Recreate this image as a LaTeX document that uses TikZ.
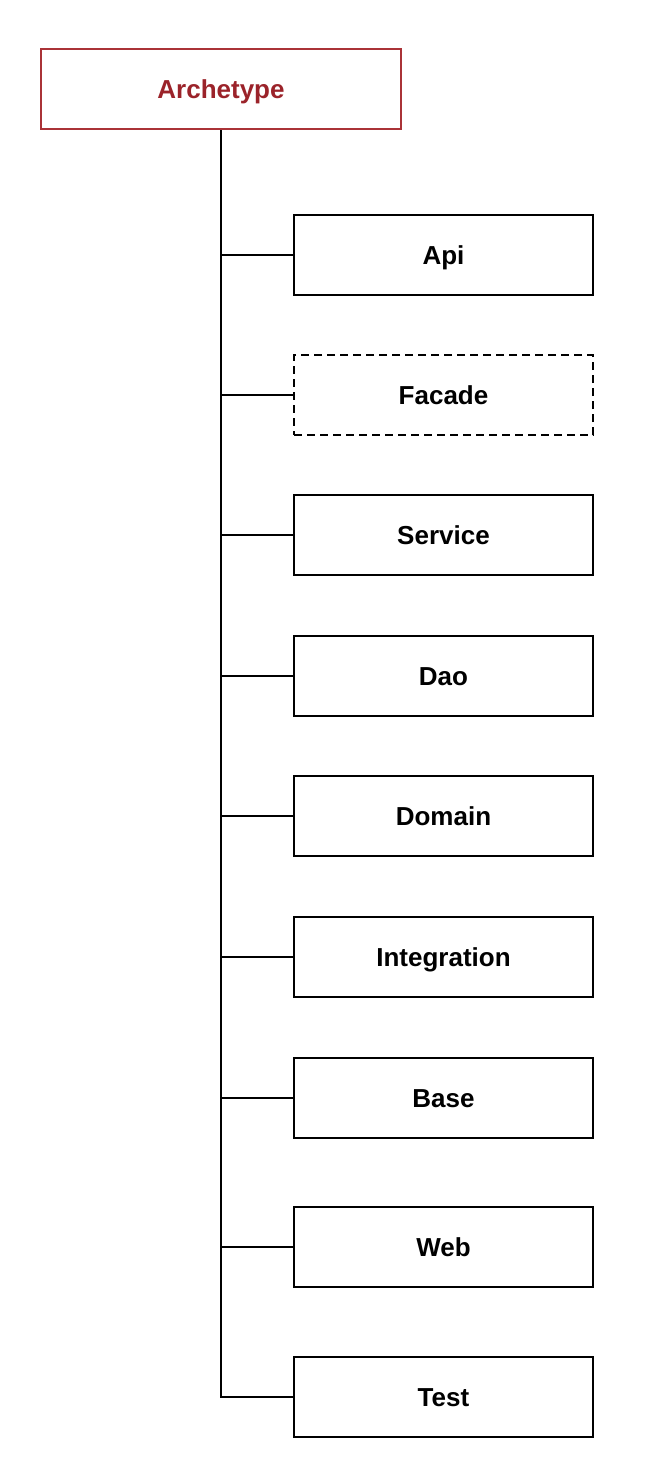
\documentclass[tikz,border=0pt]{standalone}
\usepackage{fontspec}
\setmainfont{Liberation Sans}
\definecolor{archred}{RGB}{155,35,42}
\definecolor{archborder}{RGB}{170,50,55}
\begin{document}
\begin{tikzpicture}[x=1pt,y=-1pt,
  labelfont/.style={font=\fontsize{26}{30}\selectfont\bfseries,text height=18pt,text depth=0pt},
  box/.style={draw=black,line width=2pt,minimum width=299pt,minimum height=80pt,inner sep=0pt,
    labelfont,text=black},
  dashedbox/.style={box,dash pattern=on 8pt off 5pt},
  link/.style={draw=black,line width=2pt}]
\useasboundingbox (0,0) rectangle (660,1476);
\node[draw=archborder,line width=2pt,minimum width=360pt,minimum height=80pt,inner sep=0pt,
  labelfont,text=archred] (arch) at (221,89) {Archetype};
\node[box] (api) at (443.5,255) {Api};
\node[dashedbox] (facade) at (443.5,395) {Facade};
\node[box] (service) at (443.5,535) {Service};
\node[box] (dao) at (443.5,676) {Dao};
\node[box] (domain) at (443.5,816) {Domain};
\node[box] (integration) at (443.5,957) {Integration};
\node[box] (base) at (443.5,1098) {Base};
\node[box] (web) at (443.5,1247) {Web};
\node[box] (test) at (443.5,1397) {Test};
\draw[link] (arch.south) |- (test.west);
\foreach \n in {api,facade,service,dao,domain,integration,base,web}
  \draw[link] (arch.south |- \n.west) -- (\n.west);
\end{tikzpicture}
\end{document}
